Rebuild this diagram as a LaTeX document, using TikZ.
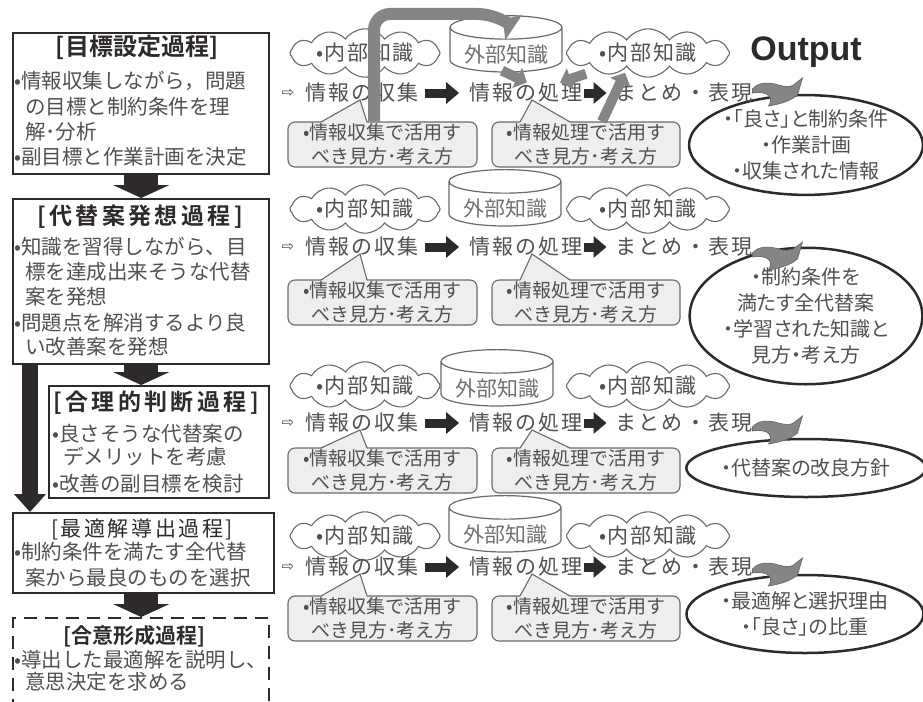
\documentclass[tikz,border=0pt]{standalone}
\usepackage{fontspec}
\setmainfont{Noto Sans CJK JP}[BoldFont={Noto Sans CJK JP Bold}]
\newfontfamily\symfont{DejaVu Sans}
\newfontfamily\latinfont{Liberation Sans}
\usetikzlibrary{shapes.geometric,shapes.symbols,arrows.meta,calc}
\definecolor{ink}{HTML}{2E2A2A}
\definecolor{txt}{HTML}{505050}
\definecolor{ltxt}{HTML}{707070}
\definecolor{garr}{HTML}{858585}
\definecolor{callfill}{HTML}{EEEEEE}
\definecolor{edge}{HTML}{6A6A6A}
\newcommand\boxline[3]{\node[body] (#1) at (#2) {#3};}
\tikzset{
 procbox/.style={draw=ink,line width=2.4pt,fill=white,inner sep=0pt,anchor=north west},
 ttl/.style={inner sep=0pt,text=ink,text height=19pt,text depth=3pt},
 body/.style={inner sep=0pt,anchor=west,text=txt,font=\fontsize{20.5}{24}\selectfont,text height=18pt,text depth=2.5pt},
 downarrow/.style={draw=ink,line width=34pt,-{Triangle[length=13pt,width=56pt]}},
 flow/.style={inner sep=0pt,text=txt,font=\fontsize{21}{24}\selectfont\addfontfeatures{LetterSpace=10},text height=18pt,text depth=2.5pt},
 flowsym/.style={inner sep=0pt,text=txt,font=\symfont\fontsize{15}{18}\selectfont},
 flowarrow/.style={draw=ink,line width=9pt,-{Triangle[length=13pt,width=21pt]}},
 cloudL/.style={cloud,cloud puffs=12,cloud puff arc=110,aspect=4.5,draw=edge,fill=white,line width=1.1pt,minimum width=150pt,minimum height=36pt,inner sep=0pt,text=txt,font=\fontsize{21}{24}\selectfont\addfontfeatures{LetterSpace=8}},
 cloudR/.style={cloudL,minimum width=163pt},
 cyl/.style={cylinder,shape border rotate=90,aspect=0.28,draw=edge,fill=white,line width=1.2pt,minimum width=112pt,minimum height=34pt,inner sep=0pt,text=ltxt,font=\fontsize{21}{24}\selectfont,text height=18pt,text depth=2.5pt},
 callbox/.style={rectangle,rounded corners=7pt,draw=edge,line width=1.1pt,fill=callfill,minimum width=189pt,minimum height=45pt,inner sep=0pt,align=center,text=txt,font=\fontsize{19}{24}\selectfont},
 calledge/.style={draw=edge,line width=1.1pt},
 outell/.style={ellipse,draw=ink,line width=2.5pt,fill=white,inner sep=0pt,align=center,text=txt,font=\fontsize{20}{26}\selectfont\addfontfeatures{RawFeature=+palt}},
 bigg/.style={draw=garr,line width=12pt,-{Triangle[length=13pt,width=30pt]}},
 smallg/.style={draw=garr,line width=10pt,-{Triangle[length=11pt,width=22pt]}},
 swoosh/.style={fill=garr,draw=edge,line width=0.7pt}
}
\begin{document}
\begin{tikzpicture}[x=1pt,y=-1pt]
\useasboundingbox[fill=white] (0,0) rectangle (923,701);

% ---------------- left process boxes ----------------
\node[procbox,minimum width=256pt,minimum height=141pt] (b1) at (12,32) {};
\node[procbox,minimum width=256pt,minimum height=165pt] (b2) at (12,198) {};
\node[procbox,minimum width=220pt,minimum height=112pt] (b3) at (48,385) {};
\node[procbox,minimum width=261pt,minimum height=80pt] (b4) at (12,512) {};
\node[procbox,dash pattern=on 13pt off 8pt,minimum width=256pt,minimum height=100pt] (b5) at (12,617) {};

\draw[downarrow] (b1.south) -- (b2.north);
\draw[downarrow] (b2.south) -- (b2.south |- b3.north);
\draw[draw=ink,line width=16pt,-{Triangle[length=18pt,width=31pt]}] ([xshift=18pt]b2.south west) -- ([xshift=18pt]b4.north west);
\draw[downarrow] (b5.north |- b4.south) -- (b5.north);

\node[ttl,font=\fontsize{24}{28}\selectfont\bfseries] (t1) at (137,48) {[目標設定過程]};
\boxline{l11}{14,81}{•情報収集しながら，問題}
\boxline{l12}{25,107}{の目標と制約条件を理}
\boxline{l13}{25,132}{解･分析}
\boxline{l14}{14,157}{•副目標と作業計画を決定}

\node[ttl,font=\fontsize{23}{28}\selectfont\bfseries\addfontfeatures{LetterSpace=15}] (t2) at (140,216) {[代替案発想過程]};
\boxline{l21}{14,247}{•知識を習得しながら、目}
\boxline{l22}{25,272}{標を達成出来そうな代替}
\boxline{l23}{25,297}{案を発想}
\boxline{l24}{14,323}{•問題点を解消するより良}
\boxline{l25}{25,347}{い改善案を発想}

\node[ttl,font=\fontsize{23}{28}\selectfont\bfseries\addfontfeatures{LetterSpace=15}] (t3) at (156,402) {[合理的判断過程]};
\boxline{l31}{52,434}{•良さそうな代替案の}
\boxline{l32}{63,457}{デメリットを考慮}
\boxline{l33}{52,484}{•改善の副目標を検討}

\node[ttl,font=\fontsize{21}{26}\selectfont\addfontfeatures{LetterSpace=12}] (t4) at (142,528) {[最適解導出過程]};
\boxline{l41}{14,552}{•制約条件を満たす全代替}
\boxline{l42}{25,578}{案から最良のものを選択}

\node[ttl,font=\fontsize{21}{26}\selectfont\bfseries] (t5) at (134,635) {[合意形成過程]};
\boxline{l51}{14,660}{•導出した最適解を説明し、}
\boxline{l52}{25,682}{意思決定を求める}

% ---------------- outputs ----------------
\node[inner sep=0pt,anchor=base,text=ink,font=\latinfont\bfseries\fontsize{34}{36}\selectfont] (out) at (806,60) {Output};
\node[outell,minimum width=232pt,minimum height=96pt] (o1) at (806,145) {・「良さ」と制約条件\\・作業計画\\・収集された情報};
\node[outell,minimum width=232pt,minimum height=122pt] (o2) at (806,316) {・制約条件を\\満たす全代替案\\・学習された知識と\\見方・考え方};
\node[outell,minimum width=232pt,minimum height=58pt] (o3) at (806,468) {・代替案の改良方針};
\node[outell,minimum width=230pt,minimum height=78pt] (o4) at (805,614) {・最適解と選択理由\\・「良さ」の比重};

% ---------------- rows ----------------
\foreach \r/\yc/\yy/\yt/\yb/\cx/\so in {1/53/50/93/122/506/0, 2/209/204/247/280/505/-10, 3/386/384/423/448/497/-8, 4/536/530/567/596/505/-6}{
  \node[cloudL] (cl\r) at (365,\yc) {•内部知識};
  \node[cyl] (cy\r) at (\cx,\yy) {\raisebox{-5pt}{外部知識}};
  \node[cloudR] (cr\r) at (648,\yc) {•内部知識};
  \node[flowsym] (hd\r) at (288,\yt) {⇨};
  \node[flow] (co\r) at (362,\yt) {情報の収集};
  \node[flow] (pr\r) at (526,\yt) {情報の処理};
  \node[flow] (su\r) at (684,\yt) {まとめ・表現};
  \draw[flowarrow] ([xshift=6pt]co\r.east) -- ([xshift=-10pt]pr\r.west);
  \draw[flowarrow] ([xshift=1pt]pr\r.east) -- ([xshift=-9pt]su\r.west);
  \node[callbox] (ca\r) at (382.5,\yb+22.5) {•情報収集で活用す\\べき見方･考え方};
  \fill[callfill] (321,\yb+0.9) -- (360,\yt+7) -- (367,\yb+0.9) -- cycle;
  \draw[calledge] (321,\yb) -- (360,\yt+7) -- (367,\yb);
  \node[callbox,minimum width=188pt] (cb\r) at (586,\yb+22.5) {•情報処理で活用す\\べき見方･考え方};
  \fill[callfill] (520,\yb+0.9) -- (532,\yt+7) -- (570,\yb+0.9) -- cycle;
  \draw[calledge] (520,\yb) -- (532,\yt+7) -- (570,\yb);
  \begin{scope}[shift={([yshift=\so pt]su\r.east)}]
    \path[swoosh] (0,-4) .. controls (6,-11) and (16,-11) .. (26,-8) .. controls (33,-6) and (38,-6) .. (41,-8)
      -- (50,-15) -- (45,2) .. controls (38,8) and (28,11) .. (16,13)
      .. controls (20,7) and (18,3) .. (14,1) .. controls (9,-1) and (4,-1) .. (0,0) -- cycle;
  \end{scope}
}

% ---------------- gray knowledge arrows (row 1) ----------------
\draw[bigg,rounded corners=16pt] ([xshift=-8.5pt]ca1.north) -- (374,14) -- (494,14) -- ([xshift=-3pt,yshift=-5pt]cy1.north);
\draw[smallg] ([xshift=-4pt,yshift=2pt]cy1.south) -- ([xshift=1pt]pr1.north);
\draw[smallg] ([xshift=-62pt,yshift=4pt]cr1.south) -- ([xshift=34pt]pr1.north);
\draw[smallg] ([xshift=16pt]cb1.north) -- ([xshift=-23pt,yshift=5pt]cr1.south);
\end{tikzpicture}
\end{document}
